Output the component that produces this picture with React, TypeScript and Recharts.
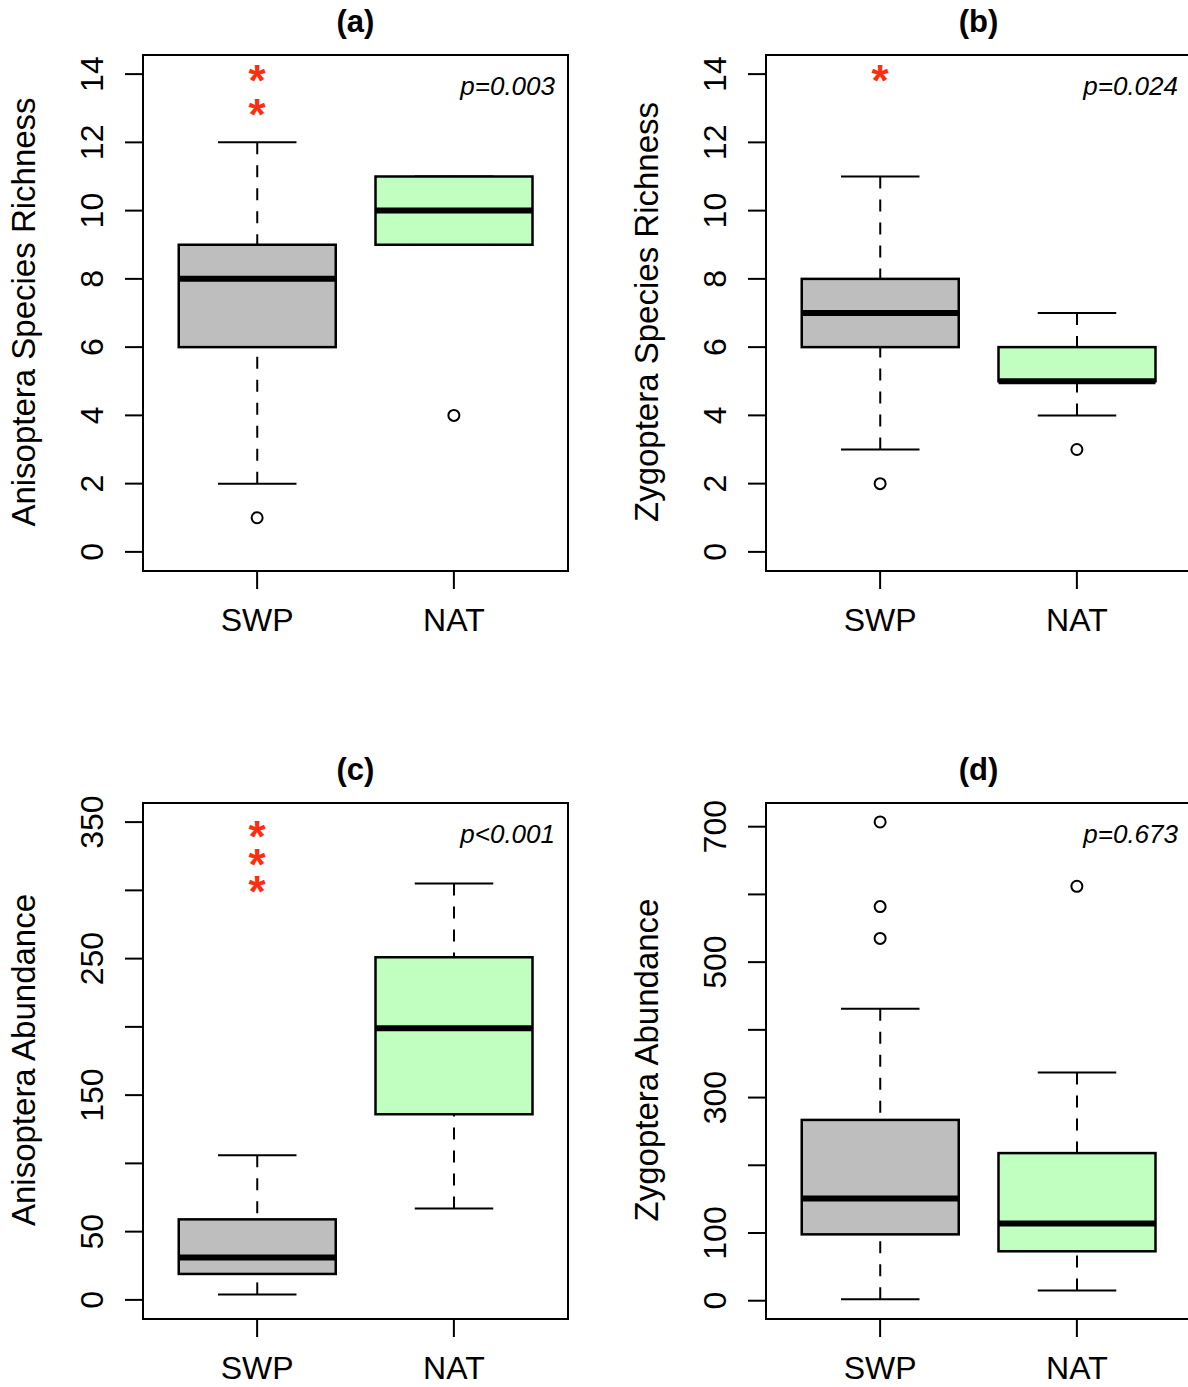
import React from 'react'
import { ComposedChart, Bar, Scatter, XAxis, YAxis, ReferenceArea } from 'recharts'

const groups = ['SWP', 'NAT']
const groupFills = ['#bebebe', '#c1ffc1']

// box stats: [lower whisker, Q1, median, Q3, upper whisker]
const anisoRichSWP = [2, 6, 8, 9, 12]
const anisoRichNAT = [9, 9, 10, 11, 11]
const anisoRichOutSWP = [1]
const anisoRichOutNAT = [4]
const anisoRichStars = [14, 13]

const zygoRichSWP = [3, 6, 7, 8, 11]
const zygoRichNAT = [4, 5, 5, 6, 7]
const zygoRichOutSWP = [2]
const zygoRichOutNAT = [3]
const zygoRichStars = [14]

const anisoAbunSWP = [4, 19, 31, 59, 106]
const anisoAbunNAT = [67, 136, 199, 251, 305]
const anisoAbunOutSWP: number[] = []
const anisoAbunOutNAT: number[] = []
const anisoAbunStars = [344, 324, 304]

const zygoAbunSWP = [2, 98, 151, 267, 431]
const zygoAbunNAT = [15, 73, 114, 218, 337]
const zygoAbunOutSWP = [535, 582, 707]
const zygoAbunOutNAT = [612]
const zygoAbunStars: number[] = []

const richTicks = [0, 2, 4, 6, 8, 10, 12, 14]
const anisoAbunTicks = [0, 50, 100, 150, 200, 250, 300, 350]
const anisoAbunLabels = [0, 50, 150, 250, 350]
const zygoAbunTicks = [0, 100, 200, 300, 400, 500, 600, 700]
const zygoAbunLabels = [0, 100, 300, 500, 700]

const FONT = '"Liberation Sans", Arial, Helvetica, sans-serif'
const X_DOMAIN = [0.42, 2.58]

function makeRows(swp: number[], nat: number[]) {
  return [swp, nat].map((s, i) => ({
    x: i + 1,
    group: groups[i],
    range: [s[0], s[4]],
    stats: s,
    fill: groupFills[i],
  }))
}

function makePoints(swp: number[], nat: number[]) {
  return [...swp.map((y) => ({ x: 1, y })), ...nat.map((y) => ({ x: 2, y }))]
}

function BoxShape(props: any) {
  const { x, y, width, height, payload } = props
  const [lo, q1, med, q3, hi] = payload.stats
  const top = Math.min(y, y + height)
  const bottom = Math.max(y, y + height)
  // linear map inside the bar's own pixel range
  const toPx = (v: number) => bottom - ((v - lo) / (hi - lo)) * (bottom - top)
  const cx = x + width / 2
  const cap = width / 4
  return (
    <g>
      <line x1={cx} x2={cx} y1={toPx(hi)} y2={toPx(q3)} stroke="#000" strokeWidth={2} strokeDasharray="12 11" />
      <line x1={cx} x2={cx} y1={toPx(lo)} y2={toPx(q1)} stroke="#000" strokeWidth={2} strokeDasharray="12 11" />
      <line x1={cx - cap} x2={cx + cap} y1={toPx(hi)} y2={toPx(hi)} stroke="#000" strokeWidth={2} />
      <line x1={cx - cap} x2={cx + cap} y1={toPx(lo)} y2={toPx(lo)} stroke="#000" strokeWidth={2} />
      <rect x={x} y={toPx(q3)} width={width} height={toPx(q1) - toPx(q3)} fill={payload.fill} stroke="#000" strokeWidth={2.5} />
      <line x1={x} x2={x + width} y1={toPx(med)} y2={toPx(med)} stroke="#000" strokeWidth={6} />
    </g>
  )
}

const OutlierDot = (props: any) => (
  <circle cx={props.cx} cy={props.cy} r={5.5} fill="none" stroke="#000" strokeWidth={2} />
)

const StarMark = (props: any) => (
  <text x={props.cx} y={props.cy + 22} textAnchor="middle" fontFamily={FONT} fontSize={44} fontWeight="bold" fill="#ff2d10">
    *
  </text>
)

const XTick = (props: any) => (
  <text x={props.x} y={props.y + 42} textAnchor="middle" fontFamily={FONT} fontSize={32} fill="#000">
    {groups[props.payload.value - 1]}
  </text>
)

interface PanelProps {
  left: number
  top: number
  title: string
  yLabel: string
  pText: string
  swp: number[]
  nat: number[]
  outSWP: number[]
  outNAT: number[]
  stars: number[]
  domain: number[]
  ticks: number[]
  labels: number[]
}

function Panel(p: PanelProps) {
  const rows = makeRows(p.swp, p.nat)
  const outliers = makePoints(p.outSWP, p.outNAT)
  const starPts = p.stars.map((y) => ({ x: 1, y }))

  const YTick = (props: any) => {
    if (!p.labels.includes(props.payload.value)) return <g />
    const tx = props.x - 22
    return (
      <text x={tx} y={props.y} transform={`rotate(-90, ${tx}, ${props.y})`} textAnchor="middle" fontFamily={FONT} fontSize={32} fill="#000">
        {props.payload.value}
      </text>
    )
  }

  return (
    <div style={{ position: 'absolute', left: p.left, top: p.top, width: 594, height: 639 }}>
      <ComposedChart width={594} height={639} data={rows} margin={{ top: 55, right: 26, bottom: 8, left: 0 }}>
        <XAxis
          type="number"
          dataKey="x"
          domain={X_DOMAIN}
          ticks={[1, 2]}
          allowDataOverflow
          axisLine={false}
          tickLine={{ stroke: '#000', strokeWidth: 2 }}
          tickSize={18}
          tickMargin={0}
          height={60}
          interval={0}
          tick={XTick}
        />
        <YAxis
          type="number"
          domain={p.domain}
          ticks={p.ticks}
          allowDataOverflow
          axisLine={false}
          tickLine={{ stroke: '#000', strokeWidth: 2 }}
          tickSize={18}
          tickMargin={0}
          width={143}
          interval={0}
          tick={YTick}
        />
        <ReferenceArea
          x1={X_DOMAIN[0]}
          x2={X_DOMAIN[1]}
          y1={p.domain[0]}
          y2={p.domain[1]}
          fill="none"
          stroke="#000"
          strokeWidth={2}
          ifOverflow="visible"
        />
        <Bar dataKey="range" barSize={157} shape={BoxShape} isAnimationActive={false} />
        <Scatter data={outliers} dataKey="y" shape={OutlierDot} isAnimationActive={false} />
        <Scatter data={starPts} dataKey="y" shape={StarMark} isAnimationActive={false} />
      </ComposedChart>
      <svg width={594} height={639} style={{ position: 'absolute', left: 0, top: 0, pointerEvents: 'none' }}>
        <text x={355.5} y={32} textAnchor="middle" fontFamily={FONT} fontSize={31} fontWeight="bold" fill="#000">
          {p.title}
        </text>
        <text x={35} y={312} transform="rotate(-90, 35, 312)" textAnchor="middle" fontFamily={FONT} fontSize={33} fill="#000">
          {p.yLabel}
        </text>
        <text x={555} y={95} textAnchor="end" fontFamily={FONT} fontSize={26} fontStyle="italic" fill="#000">
          {p.pText}
        </text>
      </svg>
    </div>
  )
}

export default function App() {
  return (
    <div style={{ position: 'absolute', left: 0, top: 0, width: 1188, height: 1387, overflow: 'hidden', background: '#fff' }}>
      <Panel
        left={0}
        top={0}
        title="(a)"
        yLabel="Anisoptera Species Richness"
        pText="p=0.003"
        swp={anisoRichSWP}
        nat={anisoRichNAT}
        outSWP={anisoRichOutSWP}
        outNAT={anisoRichOutNAT}
        stars={anisoRichStars}
        domain={[-0.56, 14.56]}
        ticks={richTicks}
        labels={richTicks}
      />
      <Panel
        left={623}
        top={0}
        title="(b)"
        yLabel="Zygoptera Species Richness"
        pText="p=0.024"
        swp={zygoRichSWP}
        nat={zygoRichNAT}
        outSWP={zygoRichOutSWP}
        outNAT={zygoRichOutNAT}
        stars={zygoRichStars}
        domain={[-0.56, 14.56]}
        ticks={richTicks}
        labels={richTicks}
      />
      <Panel
        left={0}
        top={748}
        title="(c)"
        yLabel="Anisoptera Abundance"
        pText="p<0.001"
        swp={anisoAbunSWP}
        nat={anisoAbunNAT}
        outSWP={anisoAbunOutSWP}
        outNAT={anisoAbunOutNAT}
        stars={anisoAbunStars}
        domain={[-14, 364]}
        ticks={anisoAbunTicks}
        labels={anisoAbunLabels}
      />
      <Panel
        left={623}
        top={748}
        title="(d)"
        yLabel="Zygoptera Abundance"
        pText="p=0.673"
        swp={zygoAbunSWP}
        nat={zygoAbunNAT}
        outSWP={zygoAbunOutSWP}
        outNAT={zygoAbunOutNAT}
        stars={zygoAbunStars}
        domain={[-27, 735]}
        ticks={zygoAbunTicks}
        labels={zygoAbunLabels}
      />
    </div>
  )
}
